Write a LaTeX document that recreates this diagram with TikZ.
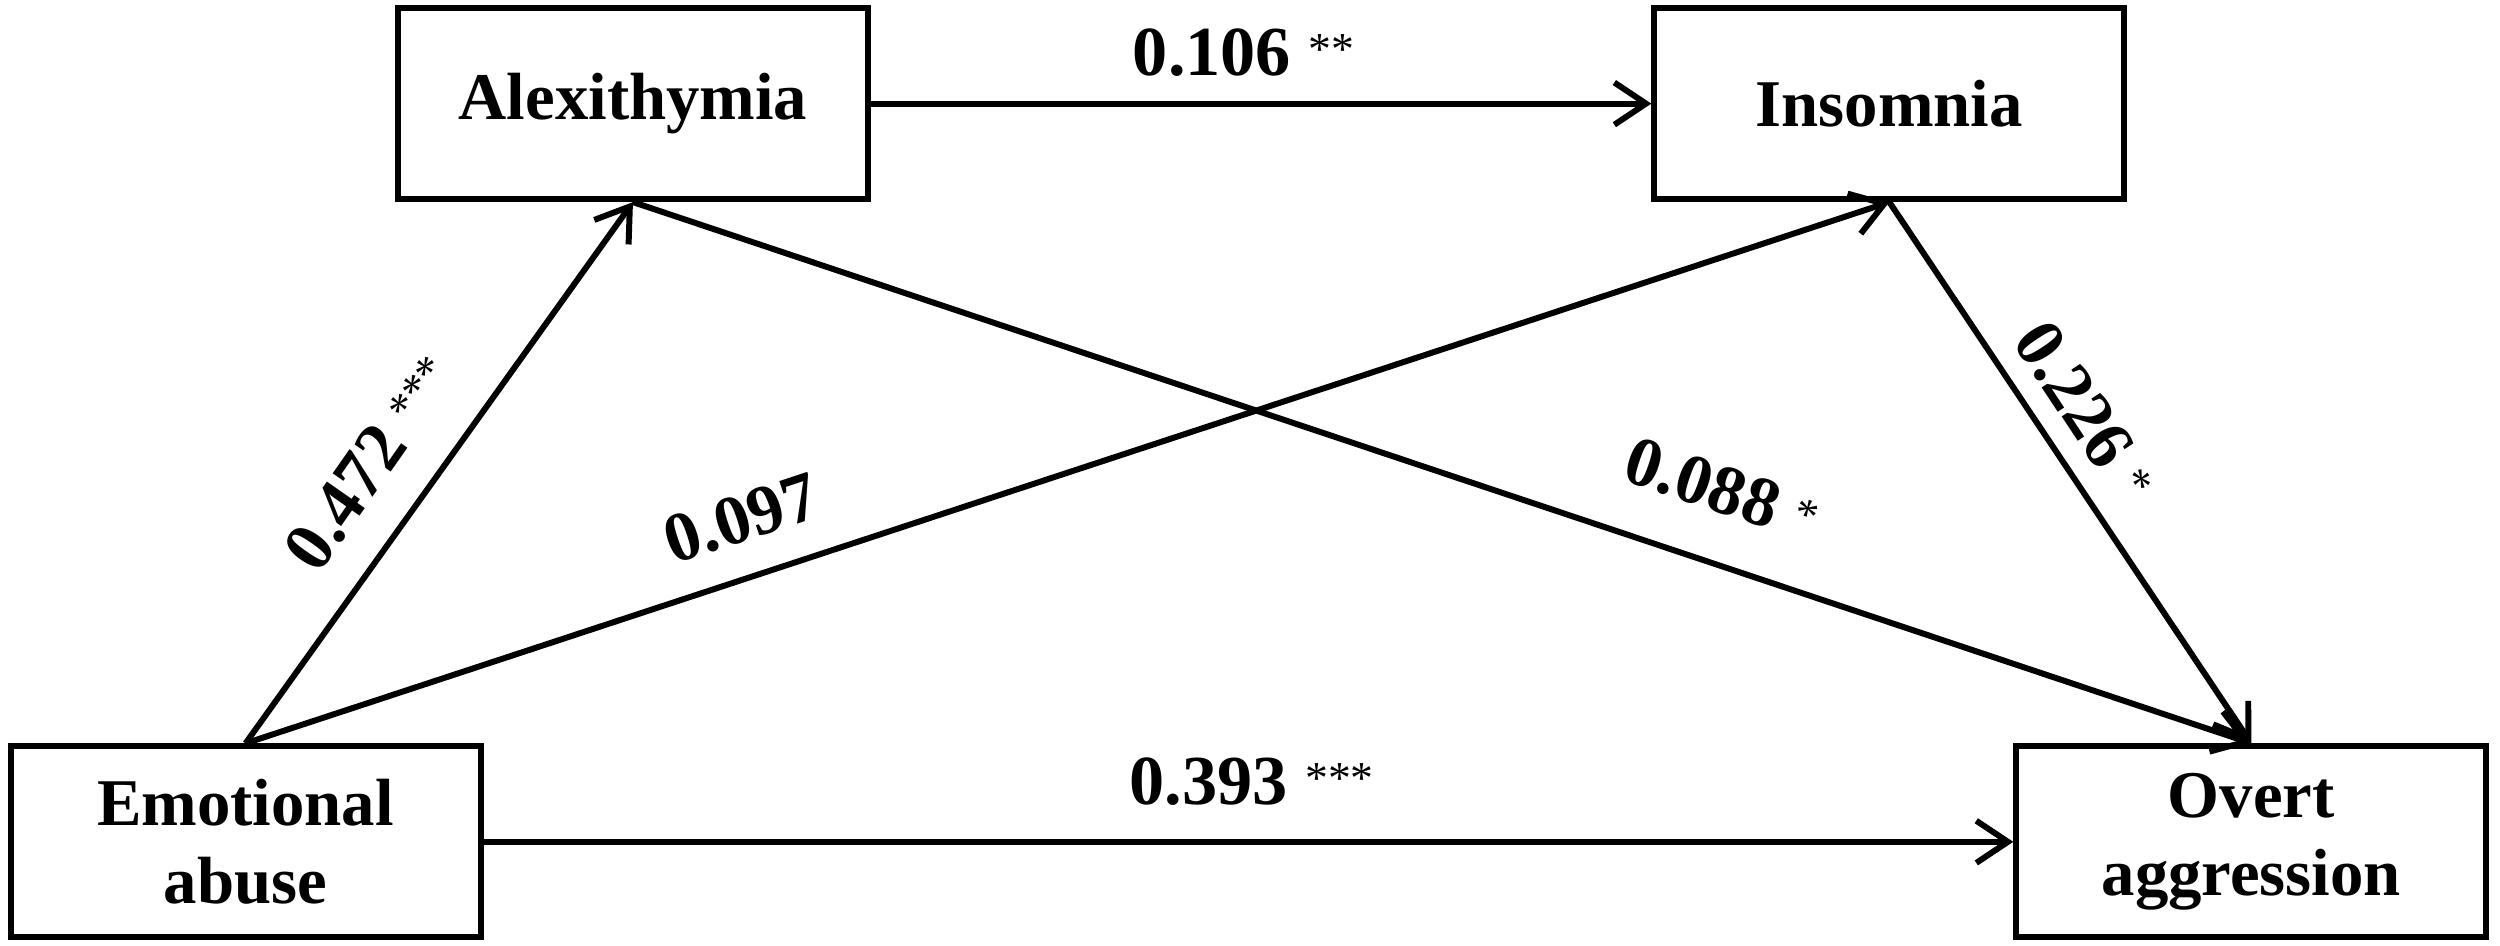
\documentclass[tikz,border=0pt]{standalone}
\usepackage{fontspec}
\setmainfont{Liberation Serif}
\usetikzlibrary{arrows.meta}
\begin{document}
\begin{tikzpicture}[x=0.01594cm,y=-0.01594cm,
  box/.style={draw,line width=1.7pt,minimum width=4.7cm,minimum height=1.91cm,align=center,font=\fontsize{19}{22}\selectfont\bfseries,inner sep=0pt},
  arr/.style={line width=1.7pt,-{Straight Barb[length=9pt,width=12pt,line width=1.7pt]}},
  lab/.style={font=\fontsize{20}{23}\selectfont\bfseries,inner sep=1pt}]
\useasboundingbox (0,0) rectangle (1568,593);
\node[box] (alex) at (397,65) {Alexithymia};
\node[box] (ins) at (1185,65) {Insomnia};
\node[box] (emo) at (154,528) {Emotional\\abuse};
\node[box] (ov) at (1412,528) {Overt\\aggression};
\draw[arr] (alex.east) -- (ins.west);
\draw[arr] (emo.north) -- (alex.south);
\draw[arr] (emo.north) -- (ins.south);
\draw[arr] (alex.south) -- (ov.north);
\draw[arr] (ins.south) -- (ov.north);
\draw[arr] (emo.east) -- (ov.west);
\node[lab] (l1) at (780,33) {0.106 \raisebox{3pt}{\fontsize{13}{15}\selectfont\mdseries **}};
\node[lab,rotate=55] (l2) at (232,290) {0.472 \raisebox{3pt}{\fontsize{13}{15}\selectfont\mdseries ***}};
\node[lab,rotate=18.4] (l3) at (465,325) {0.097};
\node[lab,rotate=-18.6] (l4) at (1080,307) {0.088 \raisebox{3pt}{\fontsize{13}{15}\selectfont\mdseries *}};
\node[lab,rotate=-56.5] (l5) at (1308,258) {0.226 \raisebox{3pt}{\fontsize{13}{15}\selectfont\mdseries *}};
\node[lab] (l6) at (785,490) {0.393 \raisebox{3pt}{\fontsize{13}{15}\selectfont\mdseries ***}};
\end{tikzpicture}
\end{document}
